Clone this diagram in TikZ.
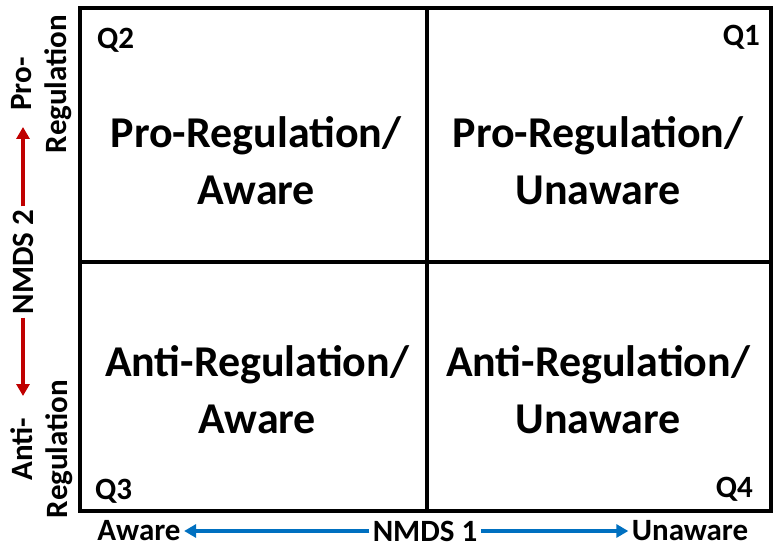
\documentclass[tikz,border=0pt]{standalone}
\usepackage{fontspec}
\setmainfont{Carlito}
\usepackage{tikz}
\usetikzlibrary{arrows.meta}

\definecolor{axisred}{HTML}{C00000}
\definecolor{axisblue}{HTML}{0070C0}

\begin{document}
\begin{tikzpicture}[
    x=1pt, y=-1pt,
    every node/.style={font=\bfseries},
    frame/.style={draw, line width=3.5pt},
    quadrant/.style={
        align=center,
        font=\bfseries\fontsize{44}{57}\selectfont
    },
    qlabel/.style={inner sep=0pt, font=\bfseries\fontsize{31}{35}\selectfont},
    axislabel/.style={font=\bfseries\fontsize{31}{35}\selectfont},
    sidelabel/.style={axislabel, rotate=90, align=center},
    redarrow/.style={-{Triangle[length=12pt,width=13pt]}, line width=3.5pt, axisred},
    bluearrow/.style={-{Triangle[length=12pt,width=13pt]}, line width=3.5pt, axisblue}
]
\useasboundingbox (0,0) rectangle (774,548);

% Frame
\draw [frame] (80,8) rectangle (771,511);
\draw [frame] (427,8) -- (427,511);
\draw [frame] (80,262) -- (771,262);

% Quadrants
\node (q2) [qlabel, anchor=north west] at (97,28) {Q2};
\node (q1) [qlabel, anchor=north east] at (760,25) {Q1};
\node (q3) [qlabel, anchor=north west] at (95,479) {Q3};
\node (q4) [qlabel, anchor=north east] at (753,477) {Q4};

\node (proaware) [quadrant] at (256,161) {Pro-Regulation/\\Aware};
\node (prounaware) [quadrant] at (598,161) {Pro-Regulation/\\Unaware};
\node (antiaware) [quadrant] at (257,390) {Anti-Regulation/\\Aware};
\node (antiunaware) [quadrant] at (598,390) {Anti-Regulation/\\Unaware};

% Axis labels
\node (prolabel) [sidelabel] at (42,84) {Pro-\\Regulation};
\node (antilabel) [sidelabel] at (42,449) {Anti-\\Regulation};
\node (nmds2) [axislabel, rotate=90] at (23,262) {NMDS 2};
\coordinate (uptip) at (23,127);
\coordinate (downtip) at (23,396);

\node (aware) [axislabel] at (139,531) {Aware};
\node (nmds1) [axislabel] at (425,531) {NMDS 1};
\node (unaware) [axislabel] at (690,531) {Unaware};

% Arrows
\draw [redarrow] (nmds2) -- (uptip);
\draw [redarrow] (nmds2) -- (downtip);
\draw [bluearrow] (nmds1) -- (aware);
\draw [bluearrow] (nmds1) -- (unaware);

\end{tikzpicture}
\end{document}
